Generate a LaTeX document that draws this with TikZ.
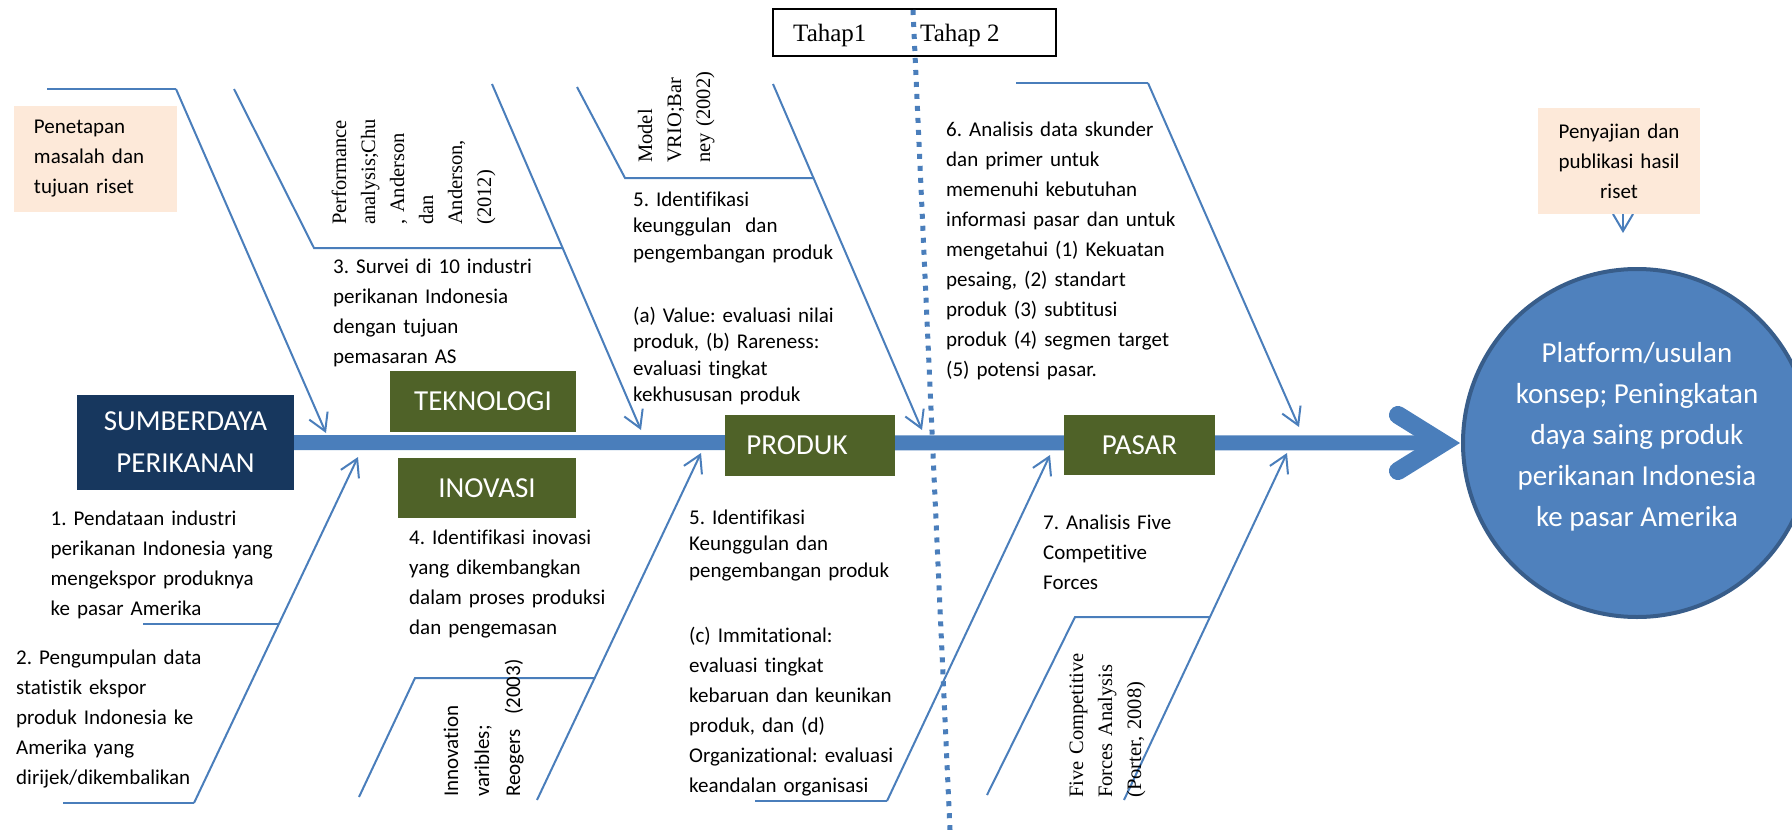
\documentclass[tikz,border=0pt]{standalone}
\usepackage{fontspec}
\setmainfont{Carlito}[Ligatures={NoCommon}]
\newfontfamily\seriffont{Liberation Serif}[Ligatures={NoCommon}]
\usetikzlibrary{arrows.meta}
\definecolor{lineblue}{HTML}{4A7EBB}
\definecolor{navy}{HTML}{17375E}
\definecolor{olive}{HTML}{4F6228}
\definecolor{peach}{HTML}{FDE9D9}
\definecolor{circfill}{HTML}{4F81BD}
\definecolor{circline}{HTML}{385D8A}
\frenchspacing
\begin{document}
\begin{tikzpicture}[x=1pt,y=-1pt,
  bone/.style={draw=lineblue, line width=2pt},
  arr/.style={bone, -{Straight Barb[length=17pt,width=20pt]}},
  spine/.style={draw=lineblue, line width=15pt},
  chev/.style={draw=lineblue, line width=18pt, line cap=round, line join=miter},
  dots/.style={draw=lineblue, line width=5pt, dash pattern=on 5pt off 7pt},
  catbox/.style={rectangle, inner sep=0pt, text=white, fill=olive, font=\fontsize{29}{42}\selectfont, align=center},
  notebox/.style={rectangle, inner sep=0pt, fill=peach, font=\fontsize{21}{30}\selectfont},
  txt/.style={anchor=base west, inner sep=0pt, text width=#1, align=left, font=\fontsize{21}{30}\selectfont},
  txtsingle/.style={anchor=base west, inner sep=0pt, text width=#1, align=left, font=\fontsize{21}{26.5}\selectfont},
  rotserif/.style={anchor=base west, inner sep=0pt, rotate=90, text width=#1, align=left, font=\seriffont\fontsize{20.5}{29}\selectfont},
  rotsans/.style={anchor=base west, inner sep=0pt, rotate=90, text width=#1, align=left, font=\fontsize{21}{31}\selectfont}
]
\useasboundingbox (0,0) rectangle (1792,830);
\clip (0,0) rectangle (1792,830);

% ---------- bone coordinates ----------
\coordinate (b1a) at (47,89);   \coordinate (b1b) at (176,89);  \coordinate (b1t) at (326,433);
\coordinate (b2a) at (234,89);  \coordinate (b2b) at (314,248); \coordinate (b2c) at (563,248);
\coordinate (b2s) at (492,84);  \coordinate (b2t) at (641,430);
\coordinate (b3a) at (577,87);  \coordinate (b3b) at (625,178); \coordinate (b3c) at (814,178);
\coordinate (b3s) at (773,84);  \coordinate (b3t) at (922,430);
\coordinate (b4a) at (1016,83); \coordinate (b4b) at (1148,83); \coordinate (b4t) at (1299,427);
\coordinate (b5a) at (63,803);  \coordinate (b5b) at (194,803); \coordinate (b5t) at (358,457);
\coordinate (b5c) at (143,624); \coordinate (b5d) at (279,624);
\coordinate (b6a) at (359,797); \coordinate (b6b) at (415,678); \coordinate (b6c) at (595,678);
\coordinate (b6s) at (537,800); \coordinate (b6t) at (701,453);
\coordinate (b7a) at (755,801); \coordinate (b7b) at (887,801); \coordinate (b7t) at (1050,455);
\coordinate (b8a) at (987,795); \coordinate (b8b) at (1075,617); \coordinate (b8c) at (1210,617);
\coordinate (b8s) at (1124,800); \coordinate (b8t) at (1287,453);
\coordinate (sp1) at (1440,443);
\coordinate (ch1) at (1398,415); \coordinate (ch2) at (1443,443); \coordinate (ch3) at (1398,471);
\coordinate (dt0) at (913,10); \coordinate (dt1) at (950,830);
\coordinate (pentip) at (1623,233);

% ---------- bones ----------
\draw[bone] (b1a) -- (b1b);
\draw[arr] (b1b) -- (b1t);
\draw[bone] (b2a) -- (b2b) -- (b2c);
\draw[arr] (b2s) -- (b2t);
\draw[bone] (b3a) -- (b3b) -- (b3c);
\draw[arr] (b3s) -- (b3t);
\draw[bone] (b4a) -- (b4b);
\draw[arr] (b4b) -- (b4t);
\draw[bone] (b5a) -- (b5b);
\draw[arr] (b5b) -- (b5t);
\draw[bone] (b5c) -- (b5d);
\draw[bone] (b6a) -- (b6b) -- (b6c);
\draw[arr] (b6s) -- (b6t);
\draw[bone] (b7a) -- (b7b);
\draw[arr] (b7b) -- (b7t);
\draw[bone] (b8a) -- (b8b) -- (b8c);
\draw[arr] (b8s) -- (b8t);

% ---------- head box & spine ----------
\node[rectangle, inner sep=0pt, fill=navy, text=white, minimum width=217pt, minimum height=95pt,
      font=\fontsize{29}{42}\selectfont, align=center] (sd) at (185.5,442.5) {SUMBERDAYA\\PERIKANAN};
\draw[spine] (sd.east) -- (sp1);
\draw[chev] (ch1) -- (ch2) -- (ch3);

% ---------- category boxes ----------
\node[catbox, minimum width=186pt, minimum height=61pt] (tek) at (483,401.5) {TEKNOLOGI};
\node[catbox, minimum width=178pt, minimum height=60pt] (ino) at (487,488) {INOVASI};
\node[catbox, minimum width=170pt, minimum height=61pt] (prod) at (810,445.5) {PRODUK\hspace*{26pt}};
\node[catbox, minimum width=151pt, minimum height=60pt] (pas) at (1139.5,445) {PASAR};

% ---------- goal ----------
\node[circle, fill=circfill, draw=circline, line width=4pt, minimum size=348pt, inner sep=0pt] (goal) at (1637,443) {};
\node[inner sep=0pt, text=white, align=center, font=\fontsize{29}{41}\selectfont] (goaltext) at (1637,437)
      {Platform/usulan\\konsep; Peningkatan\\daya saing produk\\perikanan Indonesia\\ke pasar Amerika};

% ---------- note boxes ----------
\node[notebox, minimum width=163pt, minimum height=106pt, text width=123pt, align=left] (pen) at (95.5,159)
      {Penetapan\\masalah dan\\tujuan riset};
\draw[arr] (pentip |- 0,214) -- (pentip);
\node[notebox, minimum width=162pt, minimum height=106pt, text width=140pt, align=center] (pres) at (1619,161)
      {Penyajian dan\\publikasi hasil\\riset};

% ---------- Tahap box & divider ----------
\node[rectangle, draw=black, line width=1.4pt, minimum width=283pt, minimum height=47pt, inner sep=0pt] (tahap) at (914.5,32.5) {};
\node[anchor=base west, inner sep=0pt, font=\seriffont\fontsize{25}{28}\selectfont] (tahap1) at (793,41) {Tahap1};
\node[anchor=base west, inner sep=0pt, font=\seriffont\fontsize{25}{28}\selectfont] (tahap2) at (920,41) {Tahap 2};
\draw[dots] (dt0) -- (dt1);

% ---------- texts ----------
\node[txt=250pt] (t3) at (333,273) {3. Survei di 10 industri\\perikanan Indonesia\\dengan tujuan\\pemasaran AS};
\node[txtsingle=250pt] (t5a) at (633,206) {5. Identifikasi\\keunggulan~ dan\\pengembangan produk};
\node[txtsingle=250pt] (t5b) at (633,322) {(a) Value: evaluasi nilai\\produk, (b) Rareness:\\evaluasi tingkat\\kekhususan produk};
\node[txt=260pt] (t6) at (946,136) {6. Analisis data skunder\\dan primer untuk\\memenuhi kebutuhan\\informasi pasar dan untuk\\mengetahui (1) Kekuatan\\pesaing, (2) standart\\produk (3) subtitusi\\produk (4) segmen target\\(5) potensi pasar.};
\node[txt=260pt] (t1) at (50.5,525) {1. Pendataan industri\\perikanan Indonesia yang\\mengekspor produknya\\ke pasar Amerika};
\node[txt=220pt] (t2) at (16,664) {2. Pengumpulan data\\statistik ekspor\\produk Indonesia ke\\Amerika yang\\dirijek/dikembalikan};
\node[txt=250pt] (t4) at (409,544) {4. Identifikasi inovasi\\yang dikembangkan\\dalam proses produksi\\dan pengemasan};
\node[txtsingle=250pt] (t5c) at (689,524) {5. Identifikasi\\Keunggulan dan\\pengembangan produk};
\node[txt=260pt] (t5d) at (689,642) {(c) Immitational:\\evaluasi tingkat\\kebaruan dan keunikan\\produk, dan (d)\\Organizational: evaluasi\\keandalan organisasi};
\node[txt=200pt] (t7) at (1043,529) {7. Analisis Five\\Competitive\\Forces};

% ---------- rotated references ----------
\node[rotserif=140pt] (perf) at (346,225) {Performance\\analysis;Chu\\, Anderson\\dan\\Anderson,\\(2012)};
\node[rotserif=140pt] (vrio) at (652,163) {Model\\VRIO;Bar\\ney (2002)};
\node[rotsans=140pt] (innov) at (458,797) {Innovation\\varibles;\\Reogers~ (2003)};
\node[rotserif=180pt] (five) at (1083,798) {Five Competitive\\Forces Analysis\\(Porter, 2008)};
\end{tikzpicture}
\end{document}
